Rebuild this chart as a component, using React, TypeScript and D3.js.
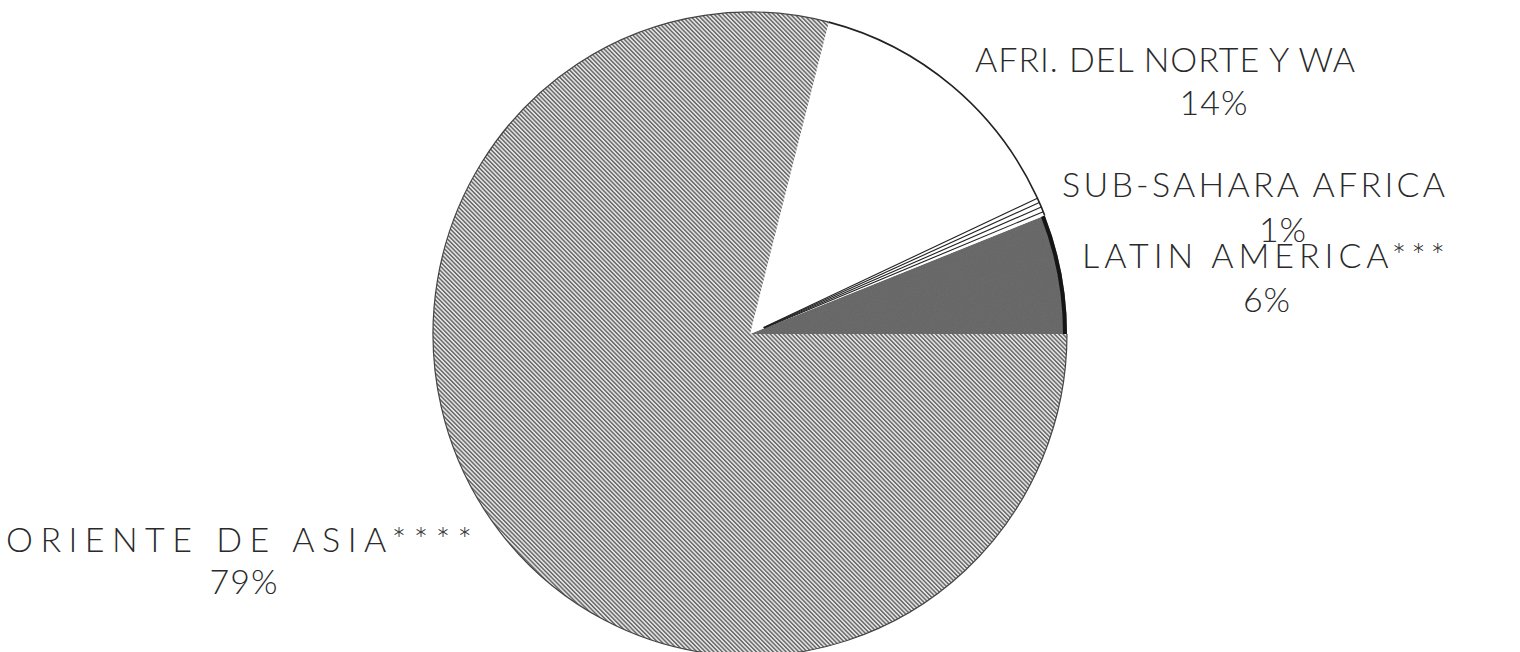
import React from "react";
import * as d3 from "d3";

const categories = ["LATIN AMERICA***", "SUB-SAHARA AFRICA", "AFRI. DEL NORTE Y WA", "ORIENTE DE ASIA****"];
const values = [6, 1, 14, 79];
const percentLabels = ["6%", "1%", "14%", "79%"];

// layout (not data)
const W = 1520, H = 652;
const CX = 750, CY = 334, RX = 317, RY = 322;
const labelLayout = [
  { x: 1082, y: 268, w: 363, px: 1267, py: 312 },
  { x: 1062, y: 197, w: 383, px: 1283, py: 242 },
  { x: 975, y: 72, w: 380, px: 1214, py: 115 },
  { x: 6, y: 552, w: 466, px: 244, py: 594 },
];
const fills = ["#6d6d6d", "#ffffff", "#ffffff", "url(#hatch)"];

export default function App() {
  const pie = d3
    .pie<number>()
    .sort(null)
    .value((d) => d)
    .startAngle(Math.PI / 2)
    .endAngle(Math.PI / 2 - 2 * Math.PI);
  const arcs = pie(values);
  const arc = d3.arc<d3.PieArcDatum<number>>().innerRadius(0).outerRadius(RX);
  const rim = d3.arc<d3.PieArcDatum<number>>().innerRadius(RX - 4).outerRadius(RX);
  const outline = d3.arc<d3.PieArcDatum<number>>().innerRadius(RX).outerRadius(RX);

  const sub = arcs[1];
  const subLines = [0.2, 0.45, 0.7, 0.93].map((t) => ({
    a: sub.startAngle + (sub.endAngle - sub.startAngle) * t,
  }));

  const font = "Lato, 'DejaVu Sans', sans-serif";

  return (
    <svg width={W} height={H} style={{ position: "absolute", left: 0, top: 0, background: "#fff" }}>
      <defs>
        <pattern id="hatch" width="3" height="3" patternUnits="userSpaceOnUse" patternTransform="rotate(45)">
          <rect width="3" height="3" fill="#e2e2e2" />
          <line x1="0" y1="0.8" x2="3" y2="0.8" stroke="#5c5c5c" strokeWidth="1.3" />
        </pattern>
        <filter id="grain" x="0" y="0" width="100%" height="100%">
          <feTurbulence type="fractalNoise" baseFrequency="0.9" numOctaves="2" seed="3" result="n" />
          <feColorMatrix type="saturate" values="0" in="n" result="g" />
          <feComponentTransfer in="g" result="g2">
            <feFuncA type="linear" slope="0.35" />
          </feComponentTransfer>
          <feComposite in="g2" in2="SourceGraphic" operator="in" result="c" />
          <feBlend in="SourceGraphic" in2="c" mode="multiply" />
        </filter>
      </defs>
      <g transform={`translate(${CX},${CY}) scale(1,${RY / RX})`}>
        {arcs.map((a, i) => (
          <path key={i} d={arc(a) || ""} fill={fills[i]} filter={i === 0 ? "url(#grain)" : undefined} />
        ))}
        {subLines.map((l, i) => (
          <line
            key={i}
            x1={Math.sin(l.a) * 15}
            y1={-Math.cos(l.a) * 15}
            x2={Math.sin(l.a) * RX}
            y2={-Math.cos(l.a) * RX}
            stroke="#222"
            strokeWidth={1.1}
          />
        ))}
        <path d={rim(arcs[0]) || ""} fill="#151515" />
        <path d={outline(arcs[2]) || ""} fill="none" stroke="#222" strokeWidth={1.6} />
        <path d={outline(arcs[1]) || ""} fill="none" stroke="#222" strokeWidth={1.6} />
        <path d={outline(arcs[3]) || ""} fill="none" stroke="#444" strokeWidth={1.2} />
      </g>
      {categories.map((c, i) => {
        const L = labelLayout[i];
        return (
          <g key={c} fontFamily={font} fontWeight={300} fontSize={34} fill="#2a2a2a">
            <text x={L.x} y={L.y} textLength={L.w} lengthAdjust="spacing">
              {c}
            </text>
            <text x={L.px} y={L.py} textAnchor="middle" letterSpacing={1}>
              {percentLabels[i]}
            </text>
          </g>
        );
      })}
    </svg>
  );
}
